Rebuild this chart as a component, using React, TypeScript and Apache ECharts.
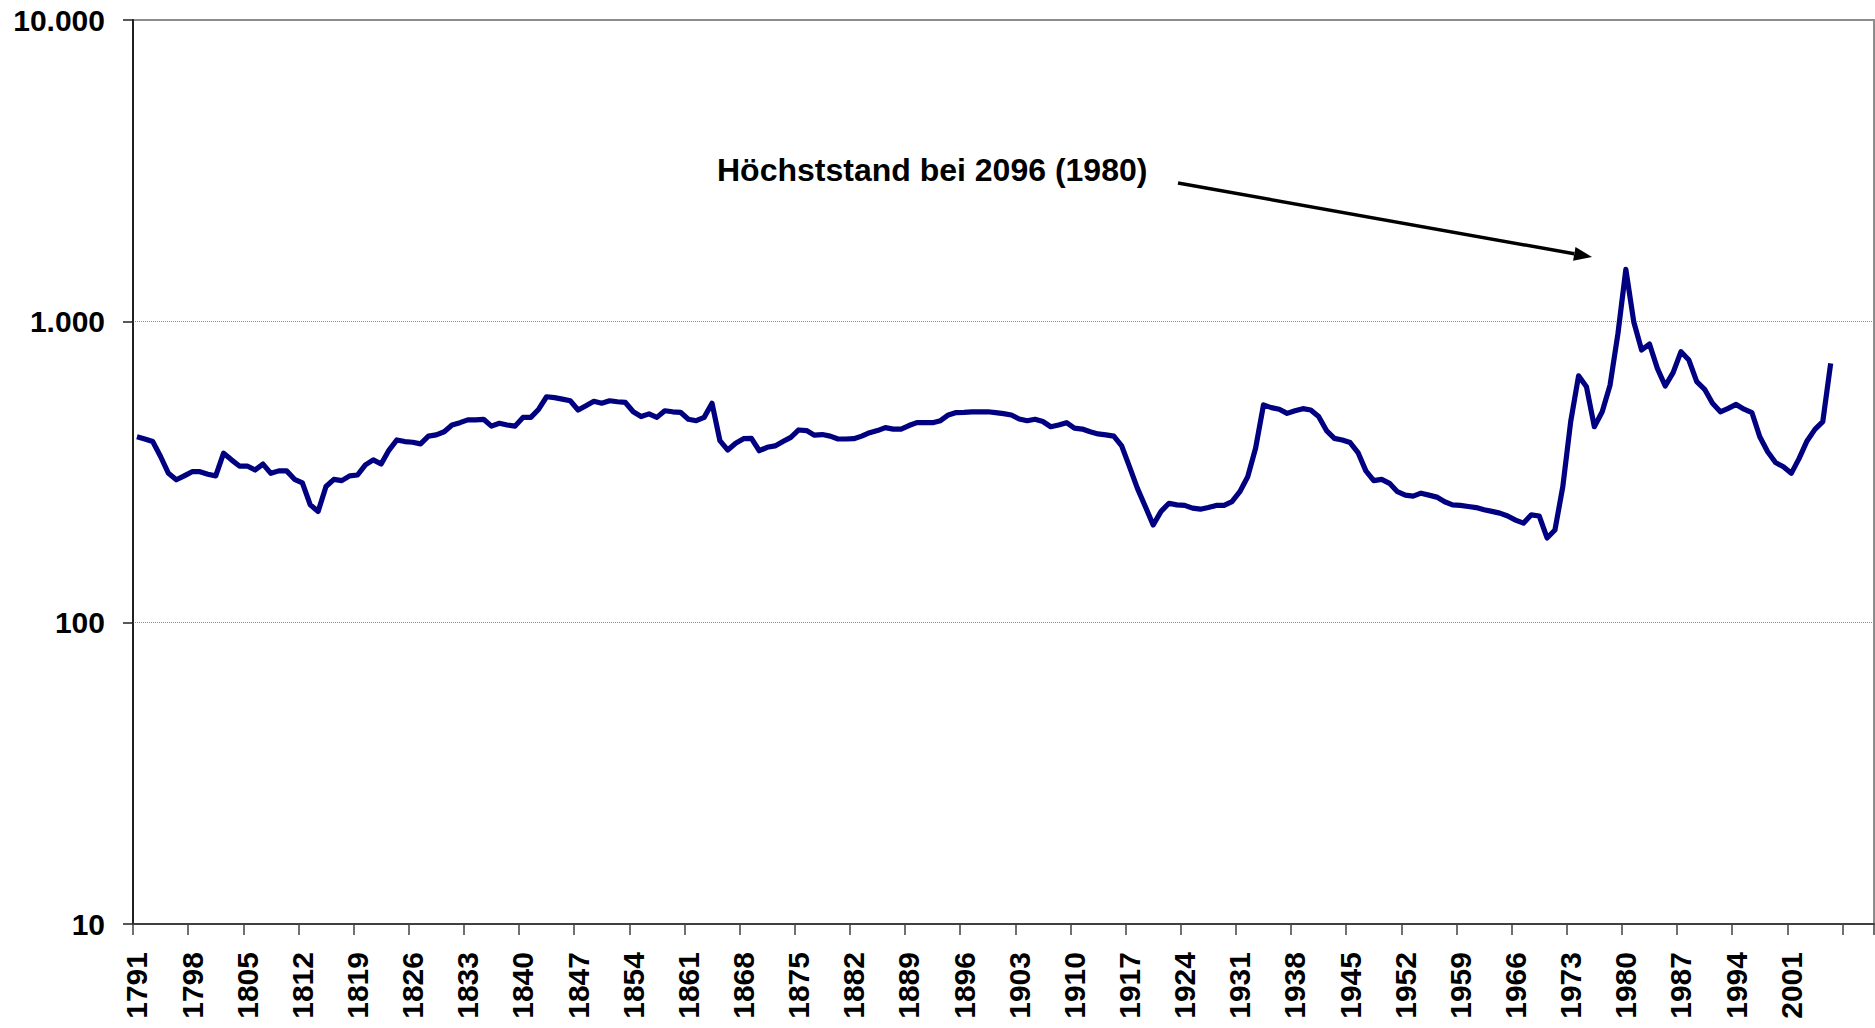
import React, { useEffect, useRef } from "react";
import * as echarts from "echarts";

const FIRST_YEAR = 1791;
const LAST_YEAR = 2011;
const years: string[] = [];
for (let y = FIRST_YEAR; y <= LAST_YEAR; y++) years.push(String(y));
const LAST_LABEL_YEAR = 2006;

// Index values 1791 - 2006
const values1791to1830 = [
  414, 407, 399, 356, 313, 298, 307, 317, 317, 311,
  307, 365, 347, 331, 331, 321, 336, 313, 319, 319,
  299, 291, 246, 234, 283, 299, 296, 307, 309, 334,
  347, 336, 374, 404, 399, 397, 392, 416, 420, 430,
];
const values1831to1870 = [
  453, 461, 471, 471, 473, 449, 459, 453, 449, 480,
  480, 511, 562, 558, 552, 545, 508, 525, 543, 535,
  545, 541, 538, 501, 483, 493, 480, 505, 501, 499,
  473, 468, 480, 535, 402, 374, 394, 408, 409, 372,
];
const values1871to1910 = [
  382, 386, 399, 412, 436, 434, 419, 421, 416, 407,
  407, 408, 416, 427, 434, 444, 439, 439, 451, 461,
  461, 461, 468, 489, 498, 499, 501, 501, 501, 498,
  494, 489, 474, 468, 473, 465, 447, 453, 461, 442,
];
const values1911to1940 = [
  439, 430, 423, 420, 416, 386, 329, 279, 243, 211,
  234, 249, 246, 245, 240, 238, 241, 245, 245, 252,
  272, 305, 379, 528, 517, 511, 495, 505, 513, 508,
];
const values1941to1980 = [
  483, 434, 409, 404, 396, 367, 319, 296, 299, 290,
  272, 265, 263, 269, 265, 261, 252, 246, 245, 243,
  241, 237, 234, 231, 226, 219, 214, 228, 226, 191,
  203, 283, 465, 659, 607, 447, 501, 615, 912, 1488,
];
const values1981to2006 = [
  997, 803, 841, 698, 610, 676, 793, 744, 631, 595,
  535, 501, 514, 530, 511, 498, 414, 369, 340, 329,
  313, 351, 401, 438, 465, 725,
];
const indexValues = [
  ...values1791to1830,
  ...values1831to1870,
  ...values1871to1910,
  ...values1911to1940,
  ...values1941to1980,
  ...values1981to2006,
];

const annotationText = "Höchststand bei 2096 (1980)";
const FONT = 'Arial, "Liberation Sans", sans-serif';

function formatThousands(v: number): string {
  return String(Math.round(v)).replace(/\B(?=(\d{3})+(?!\d))/g, ".");
}

export default function App() {
  const ref = useRef<HTMLDivElement>(null);

  useEffect(() => {
    if (!ref.current) return;
    const chart = echarts.init(ref.current, null, { renderer: "svg" });

    // Arrow geometry
    const sx = 1178, sy = 183, tx = 1592, ty = 257;
    const dx = tx - sx, dy = ty - sy;
    const len = Math.sqrt(dx * dx + dy * dy);
    const ux = dx / len, uy = dy / len;
    const headLen = 18, headHalf = 7;
    const bx = tx - ux * headLen, by = ty - uy * headLen;
    const px = -uy * headHalf, py = ux * headHalf;

    chart.setOption({
      animation: false,
      backgroundColor: "#ffffff",
      grid: {
        left: 133,
        right: 1,
        top: 20,
        bottom: 104,
        show: true,
        borderColor: "#8c8c8c",
        borderWidth: 2,
        backgroundColor: "transparent",
      },
      xAxis: {
        type: "category",
        data: years,
        boundaryGap: true,
        axisLine: { show: true, lineStyle: { color: "#404040", width: 2 } },
        axisTick: {
          show: true,
          interval: 6,
          length: 11,
          inside: false,
          lineStyle: { color: "#404040", width: 1.5 },
        },
        axisLabel: {
          interval: 6,
          rotate: 90,
          margin: 28,
          color: "#000",
          fontFamily: FONT,
          fontWeight: "bold",
          fontSize: 30,
          formatter: (v: string) => (Number(v) > LAST_LABEL_YEAR ? "" : v),
        },
        splitLine: { show: false },
      },
      yAxis: {
        type: "log",
        logBase: 10,
        min: 10,
        max: 10000,
        axisLine: { show: true, lineStyle: { color: "#202020", width: 2 } },
        axisTick: {
          show: true,
          length: 10,
          lineStyle: { color: "#202020", width: 1.5 },
        },
        axisLabel: {
          margin: 28,
          color: "#000",
          fontFamily: FONT,
          fontWeight: "bold",
          fontSize: 30,
          formatter: (v: number) => formatThousands(v),
        },
        splitLine: {
          show: true,
          lineStyle: { color: "#8c8c8c", width: 1, type: "dotted" },
        },
        minorTick: { show: false },
      },
      series: [
        {
          type: "line",
          data: indexValues,
          symbol: "none",
          lineStyle: { color: "#000080", width: 5.2, join: "round" },
          itemStyle: { color: "#000080" },
        },
      ],
      graphic: [
        {
          type: "text",
          left: 717,
          top: 172 - 18,
          style: {
            text: annotationText,
            fill: "#000",
            font: `bold 32px ${FONT}`,
          },
        },
        {
          type: "line",
          shape: { x1: sx, y1: sy, x2: bx, y2: by },
          style: { stroke: "#000", lineWidth: 3.5 },
        },
        {
          type: "polygon",
          shape: {
            points: [
              [tx, ty],
              [bx + px, by + py],
              [bx - px, by - py],
            ],
          },
          style: { fill: "#000" },
        },
      ],
    });

    return () => chart.dispose();
  }, []);

  return (
    <div
      ref={ref}
      style={{ position: "fixed", left: 0, top: 0, width: 1875, height: 1028 }}
    />
  );
}
